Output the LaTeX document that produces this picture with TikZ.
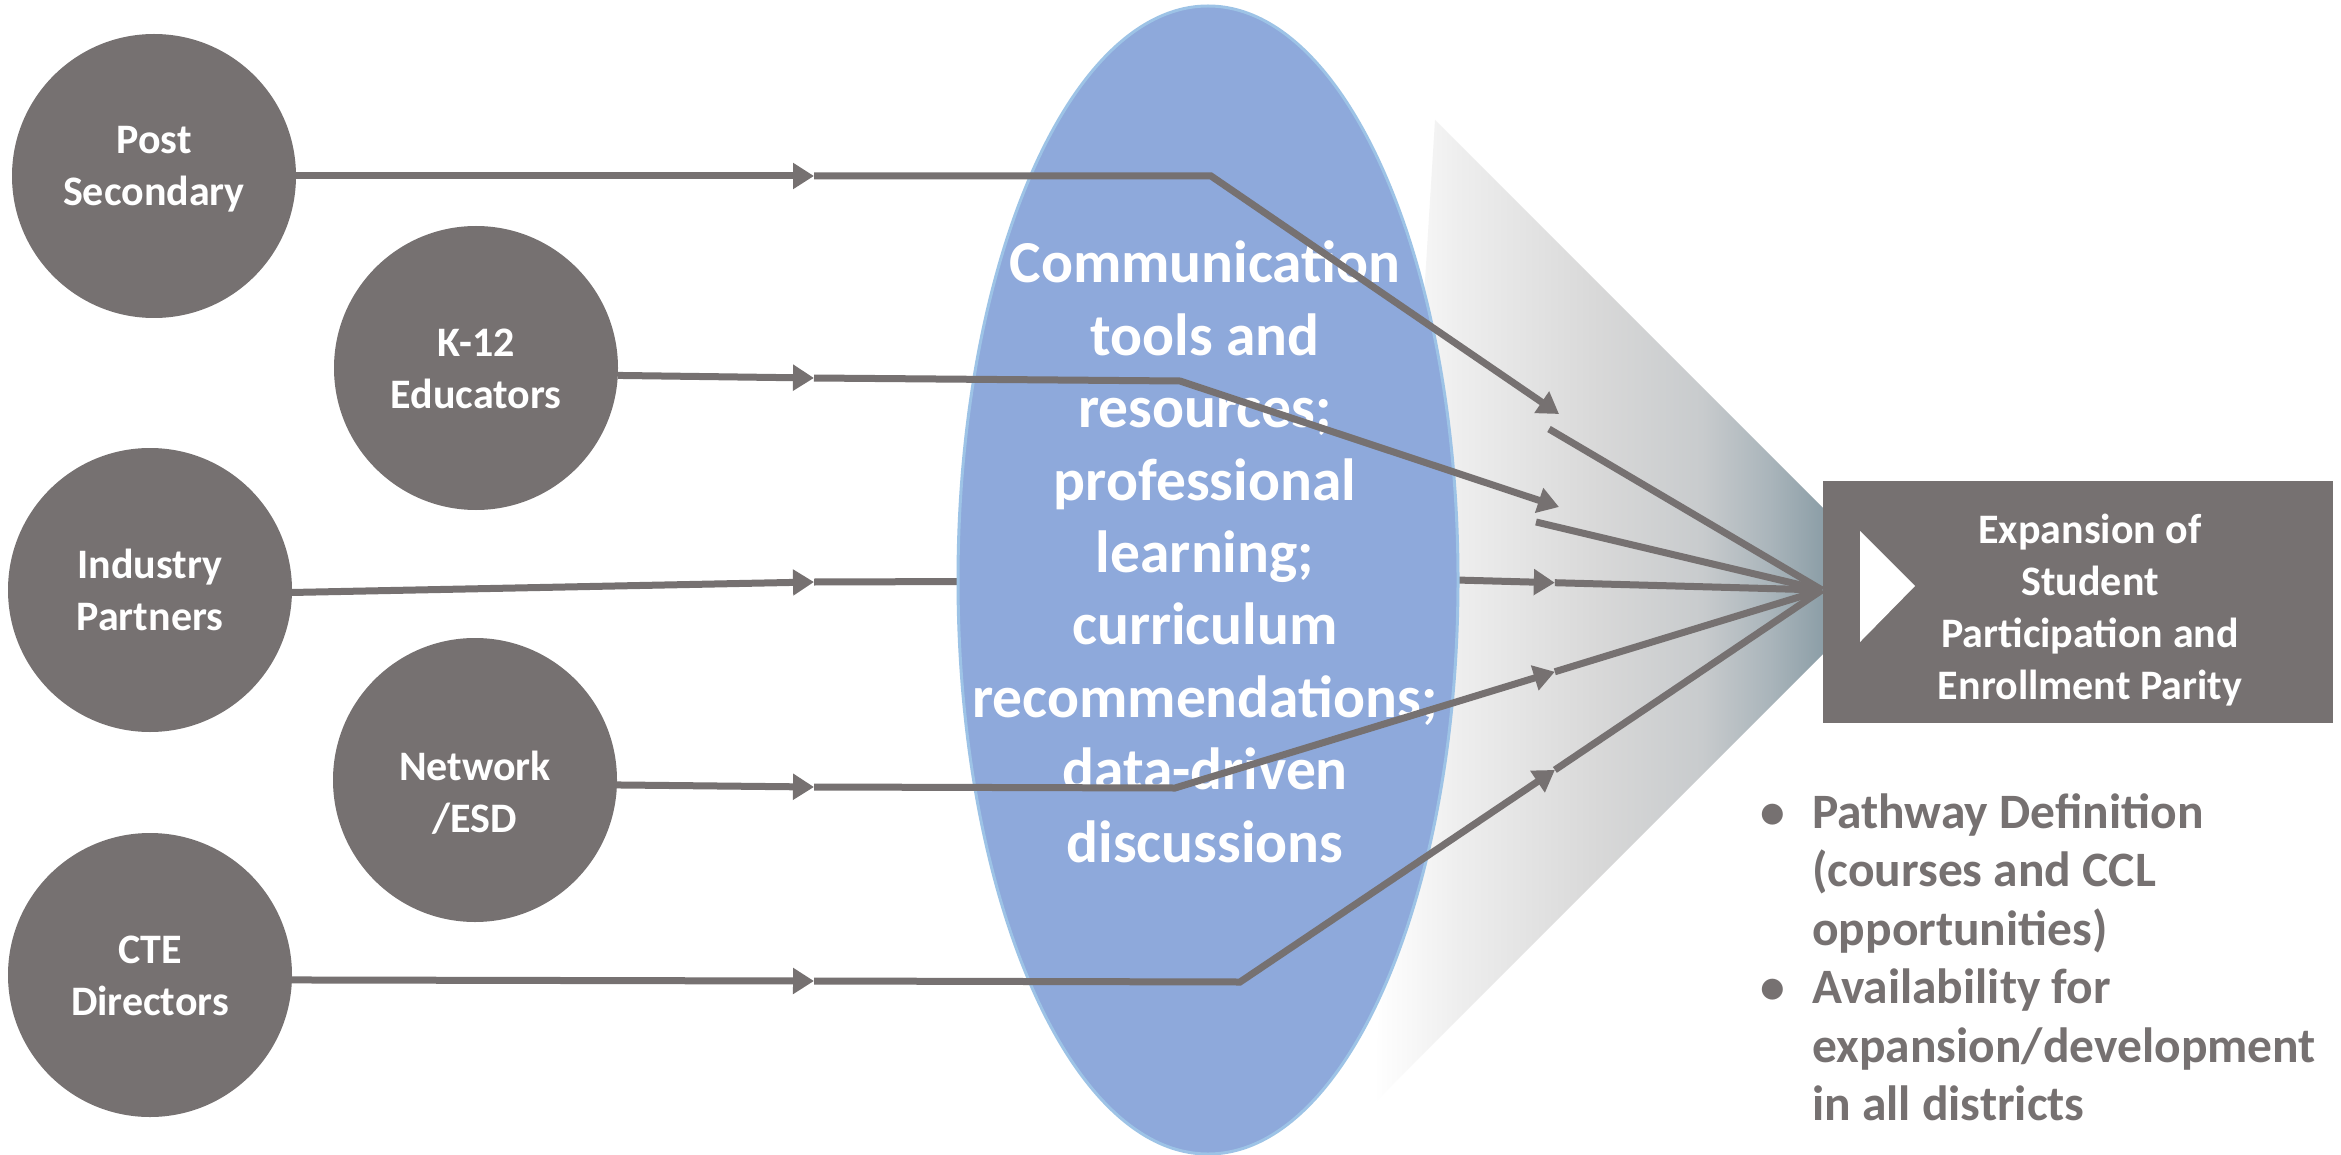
\documentclass[tikz,border=0pt]{standalone}
\usepackage{fontspec}
\setmainfont{Carlito}
\usetikzlibrary{shapes.geometric,arrows.meta,calc}
\definecolor{dgray}{RGB}{118,113,113}
\definecolor{eblue}{RGB}{142,169,219}
\definecolor{eborder}{RGB}{157,195,230}
\pgfdeclarehorizontalshading{funnelshade}{100bp}{%
  rgb(0bp)=(1,1,1);
  rgb(25bp)=(1,1,1);
  rgb(34.5bp)=(0.933,0.933,0.933);
  rgb(50bp)=(0.847,0.847,0.847);
  rgb(61.5bp)=(0.784,0.796,0.804);
  rgb(69bp)=(0.667,0.710,0.733);
  rgb(75bp)=(0.549,0.620,0.655);
  rgb(100bp)=(0.549,0.620,0.655)}
\begin{document}
\begin{tikzpicture}[x=1pt,y=-1pt,
  circ/.style={circle, fill=dgray, minimum size=284pt, inner sep=0pt, outer sep=0pt},
  ctext/.style={anchor=base, text=white, inner sep=0pt, font=\fontsize{42}{52}\selectfont\bfseries},
  conn/.style={draw=dgray, line width=7pt},
  arr/.style={-{Triangle[length=21pt,width=25pt]}},
 ]
\path[use as bounding box, fill=white] (0,0) rectangle (2341,1155);

% funnel
\path[shading=funnelshade]
  (1435,120) -- (1823,508) -- (1823,654) -- (1374,1103) -- cycle;

% source circles
\node[circ] (post) at (154,176) {};
\node[circ] (k12) at (476,368) {};
\node[circ] (ind) at (150,590) {};
\node[circ] (net) at (475,780) {};
\node[circ] (cte) at (150,975) {};
\node[ctext] (postT) at (154,154) {\begin{tabular}[t]{@{}c@{}}Post\\Secondary\end{tabular}};
\node[ctext] (k12T) at (476,356.5) {\begin{tabular}[t]{@{}c@{}}K-12\\Educators\end{tabular}};
\node[ctext] (indT) at (150,578.5) {\begin{tabular}[t]{@{}c@{}}Industry\\Partners\end{tabular}};
\node[ctext] (netT) at (475,780.5) {\begin{tabular}[t]{@{}c@{}}Network\\/ESD\end{tabular}};
\node[ctext] (cteT) at (150,963.5) {\begin{tabular}[t]{@{}c@{}}CTE\\Directors\end{tabular}};

\coordinate (conv) at (1822,590);

% Industry connector (behind the ellipse)
\coordinate (im) at (814,582);
\coordinate (ib) at (1456,580);
\coordinate (ia) at ($(ib)!0.27!(conv)$);
\draw[conn,arr] (ind.-1.2) -- (im);
\draw[conn,arr] (im) -- (ib) -- (ia);
\draw[conn] (ia) -- (conv);

% ellipse
\node[ellipse, fill=eblue, draw=eborder, line width=3pt, minimum width=500pt,
      minimum height=1148pt, inner sep=0pt] (ell) at (1208,580) {};
\node[anchor=base, text=white, inner sep=0pt, font=\fontsize{59.5}{72.4}\selectfont\bfseries]
  (ellT) at (1205,283) {\begin{tabular}[t]{@{}c@{}}Communication\\tools and\\resources;\\professional\\learning;\\curriculum\\recommendations;\\data-driven\\discussions\end{tabular}};

% Post connector
\coordinate (pm) at (814,176);
\coordinate (pb) at (1211,176);
\coordinate (pe) at (1559,414);
\coordinate (ps) at (1549,429);
\draw[conn,arr] (post.east) -- (pm);
\draw[conn,arr] (pm) -- (pb) -- (pe);
\draw[conn] (ps) -- (conv);

% K-12 connector
\coordinate (km) at (814,378);
\coordinate (kb) at (1180,381);
\coordinate (ke) at (1559,507);
\coordinate (ks) at (1536,522);
\draw[conn,arr] (k12.-3.2) -- (km);
\draw[conn,arr] (km) -- (kb) -- (ke);
\draw[conn] (ks) -- (conv);

% Network connector
\coordinate (nm) at (814,787);
\coordinate (nb) at (1175,788);
\coordinate (na) at ($(nb)!0.587!(conv)$);
\draw[conn,arr] (net.-2.8) -- (nm);
\draw[conn,arr] (nm) -- (nb) -- (na);
\draw[conn] (na) -- (conv);

% CTE connector
\coordinate (cm) at (814,981);
\coordinate (cb) at (1240,982);
\coordinate (ca) at ($(cb)!0.541!(conv)$);
\draw[conn,arr] (cte.-2.4) -- (cm);
\draw[conn,arr] (cm) -- (cb) -- (ca);
\draw[conn] (ca) -- (conv);

% outcome box
\node[rectangle, fill=dgray, minimum width=510pt, minimum height=242pt, inner sep=0pt,
      outer sep=0pt] (box) at (2078,602) {};
\fill[white] (1860,531) -- (1860,642) -- (1915,586) -- cycle;
\node[anchor=base, text=white, inner sep=0pt, font=\fontsize{42}{52}\selectfont\bfseries]
  (boxT) at (2090,543) {\begin{tabular}[t]{@{}c@{}}Expansion of\\Student\\Participation and\\Enrollment Parity\end{tabular}};

% bullets
\node[anchor=base west, text=dgray, inner sep=0pt, font=\fontsize{49.5}{58.5}\selectfont\bfseries]
  (bul) at (1760,828) {\begin{tabular}[t]{@{}p{52pt}@{}l@{}}\textbullet & Pathway Definition\\ & (courses and CCL\\ & opportunities)\\ \textbullet & Availability for\\ & expansion/development\\ & in all districts\end{tabular}};
\end{tikzpicture}
\end{document}
